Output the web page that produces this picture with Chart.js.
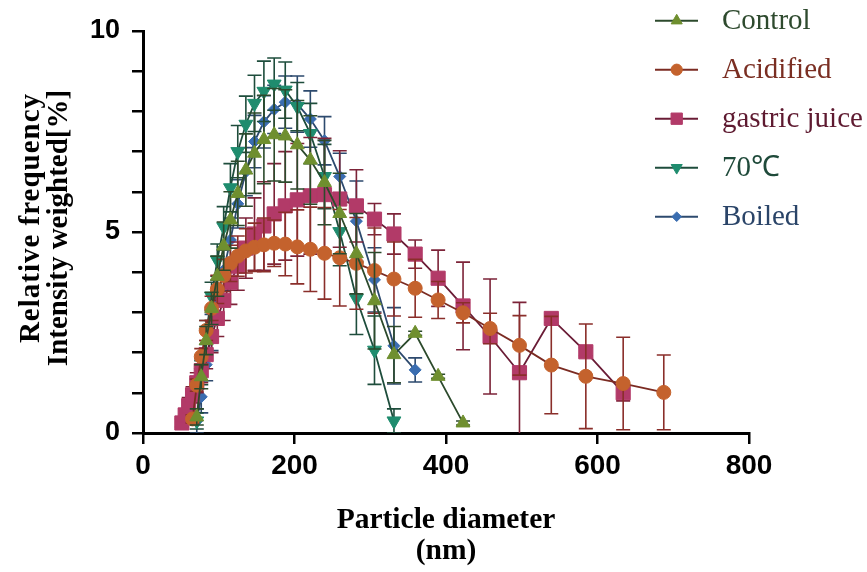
<!DOCTYPE html>
<html><head><meta charset="utf-8">
<script src="https://cdn.jsdelivr.net/npm/chart.js@4.4.1/dist/chart.umd.min.js"></script>
<style>html,body{margin:0;padding:0;background:#fff;}#wrap{width:867px;height:572px;}</style>
</head><body><div id="wrap"><canvas id="c" width="867" height="572"></canvas></div>
<script>
// Particle diameter bins (nm)
const diameters = [51.3,55.7,60.3,65.4,71.0,76.9,83.4,90.5,98.1,106.5,115.4,125.1,135.8,147.2,159.6,173.2,187.8,203.7,220.9,239.6,259.7,281.7,305.6,331.3,359.3,389.6,422.5,458.2,497.0,539.0,584.6,633.9,687.5];
const seriesNames = ['Control','Acidified','gastric juice','70\u2103','Boiled'];
const controlY   = [null,null,null,null,0.4,1.4,2.3,3.1,3.9,4.65,5.30,5.96,6.54,6.96,7.30,7.42,7.39,7.17,6.79,6.23,5.46,4.46,3.29,1.95,2.48,1.41,0.25,null,null,null,null,null,null];
const controlErr = [null,null,null,null,0.2,0.3,0.35,0.4,0.5,0.6,0.7,0.8,0.9,1.0,1.1,1.15,1.15,1.1,1.1,1.05,1.0,1.0,1.2,0.7,0.05,0.05,0.05,null,null,null,null,null,null];
const acidY      = [null,null,null,0.35,1.19,1.90,2.55,3.10,3.57,3.92,4.22,4.40,4.53,4.62,4.68,4.72,4.70,4.63,4.57,4.47,4.36,4.22,4.04,3.83,3.60,3.31,2.99,2.60,2.18,1.69,1.41,1.23,1.01];
const acidErr    = [null,null,null,0.1,0.15,0.2,0.25,0.3,0.35,0.4,0.45,0.5,0.55,0.6,0.67,0.58,0.79,0.92,1.05,1.14,1.2,1.14,1.06,0.92,0.72,0.46,0.25,0.38,0.74,1.21,1.30,1.15,0.93];
const gastricY   = [0.25,0.45,0.68,0.95,1.25,1.55,1.95,2.40,2.85,3.30,3.75,4.15,4.60,4.95,5.15,5.45,5.65,5.80,5.90,5.93,5.82,5.65,5.32,4.95,4.45,3.85,3.16,2.40,1.50,2.85,2.02,1.00,null];
const gastricErr = [0.1,0.15,0.2,0.2,0.25,0.3,0.35,0.4,0.45,0.5,0.55,0.6,0.75,0.9,1.1,1.25,1.35,1.4,1.45,1.4,1.2,0.9,0.39,0.5,0.35,0.7,1.09,1.43,1.75,0.1,0.1,0.2,null];
const c70Y       = [null,null,null,null,0.3,1.5,2.5,3.4,4.3,5.13,6.1,7.0,7.68,8.2,8.5,8.68,8.53,8.12,7.45,6.38,5.01,3.35,2.06,0.3,null,null,null,null,null,null,null,null,null];
const c70Err     = [null,null,null,null,0.2,0.3,0.3,0.35,0.4,0.5,0.6,0.65,0.7,0.7,0.75,0.65,0.7,0.6,0.75,0.8,0.85,0.9,0.85,0.3,null,null,null,null,null,null,null,null,null];
const boiledY    = [null,null,null,null,0.3,0.9,1.7,2.5,3.3,4.05,4.8,5.7,6.5,7.25,7.74,8.05,8.23,8.18,7.81,7.27,6.38,5.27,3.81,2.17,1.57,null,null,null,null,null,null,null,null];
const boiledErr  = [null,null,null,null,0.3,0.4,0.4,0.45,0.5,0.5,0.55,0.6,0.6,0.65,0.65,0.6,0.65,0.7,0.7,0.6,0.58,1.0,0.8,0.95,0.3,null,null,null,null,null,null,null,null];
const xTicks = [0,200,400,600,800];
const yTicks = [0,5,10];

function pts(ys, es){ const out=[]; ys.forEach((v,i)=>{ if(v!=null) out.push({x:diameters[i], y:v, e:es[i]}); }); return out; }

const styles = [
  {marker:'#6f8f2f', line:'#2c4a2c', err:'#2c4a2c', text:'#2e4a2e', style:'triangle', r:8, rot:0},
  {marker:'#c4622d', line:'#7b2b22', err:'#8a2e2a', text:'#7a2e22', style:'circle', r:7, rot:0},
  {marker:'#b23a68', line:'#6a1c36', err:'#7c2338', text:'#5e1a30', style:'rect', r:10, rot:0},
  {marker:'#1f8c6e', line:'#1e4d3c', err:'#1e4d3c', text:'#1f4a3a', style:'triangle', r:8, rot:180},
  {marker:'#3a6db0', line:'#2d4a6e', err:'#2d4a6e', text:'#2a4468', style:'rectRot', r:6, rot:0}
];
const dataArr = [[controlY,controlErr],[acidY,acidErr],[gastricY,gastricErr],[c70Y,c70Err],[boiledY,boiledErr]];

const datasets = dataArr.map((d,i)=>({
  label: seriesNames[i],
  data: pts(d[0], d[1]),
  borderColor: styles[i].line,
  backgroundColor: styles[i].marker,
  borderWidth: 1.8,
  pointStyle: styles[i].style,
  pointRadius: styles[i].r,
  pointRotation: styles[i].rot,
  pointBackgroundColor: styles[i].marker,
  pointBorderColor: styles[i].marker,
  pointBorderWidth: 1,
  tension: 0,
  errColor: styles[i].err
}));

const errPlugin = {
  id:'errbars',
  beforeDatasetDraw(chart, args){
    const ds = chart.data.datasets[args.index];
    const xs = chart.scales.x, ys = chart.scales.y, ctx = chart.ctx, a = chart.chartArea;
    ctx.save();
    ctx.beginPath(); ctx.rect(a.left, a.top-30, a.right-a.left, a.bottom-a.top+30); ctx.clip();
    ctx.strokeStyle = ds.errColor; ctx.lineWidth = 1.6;
    ds.data.forEach(p=>{
      if(p.e==null) return;
      const px = xs.getPixelForValue(p.x);
      const t = ys.getPixelForValue(p.y+p.e), b = ys.getPixelForValue(p.y-p.e);
      ctx.beginPath();
      ctx.moveTo(px,t); ctx.lineTo(px,b);
      ctx.moveTo(px-7,t); ctx.lineTo(px+7,t);
      ctx.moveTo(px-7,b); ctx.lineTo(px+7,b);
      ctx.stroke();
    });
    ctx.restore();
  }
};

const decoPlugin = {
  id:'deco',
  afterDraw(chart){
    const ctx = chart.ctx, a = chart.chartArea;
    ctx.save();
    ctx.fillStyle = '#000';
    ctx.font = 'bold 29.5px "Liberation Serif"';
    ctx.textAlign = 'center'; ctx.textBaseline = 'middle';
    const cx = (a.left+a.right)/2;
    ctx.fillText('Particle diameter', cx, 520);
    ctx.fillText('(nm)', cx, 551);
    ctx.font = 'bold 29px "Liberation Serif"';
    ctx.save();
    ctx.translate(32, 218); ctx.rotate(-Math.PI/2);
    ctx.letterSpacing = '1px';
    ctx.fillText('Relative frequency', 0, 0);
    ctx.restore();
    ctx.save();
    ctx.translate(60, 228); ctx.rotate(-Math.PI/2);
    ctx.letterSpacing = '0px';
    ctx.fillText('Intensity weighted[%]', 0, 0);
    ctx.restore();
    // legend
    ctx.font = '29px "Liberation Serif"';
    ctx.textAlign = 'left';
    styles.forEach((s,i)=>{
      const y = 20.7 + i*49;
      ctx.strokeStyle = s.line; ctx.lineWidth = 2;
      ctx.beginPath(); ctx.moveTo(655,y); ctx.lineTo(698,y); ctx.stroke();
      ctx.fillStyle = s.marker; ctx.strokeStyle = s.marker; ctx.lineWidth = 1;
      Chart.helpers.drawPoint(ctx, {pointStyle:s.style, radius:s.r*0.8, rotation:s.rot, borderWidth:1}, 676.7, y);
      ctx.fillStyle = s.text;
      ctx.fillText(seriesNames[i], 722, y+1);
    });
    ctx.restore();
  }
};

new Chart(document.getElementById('c'), {
  type:'line',
  data:{datasets},
  options:{
    responsive:false, animation:false, devicePixelRatio:1,
    layout:{padding:{left:0,right:118,top:31,bottom:0}},
    plugins:{legend:{display:false}, tooltip:{enabled:false}},
    scales:{
      x:{type:'linear', min:0, max:800,
        afterBuildTicks(s){ s.ticks = xTicks.map(v=>({value:v})); },
        afterFit(s){ s.height = 572-433; },
        ticks:{color:'#000', font:{family:'"Liberation Sans"', weight:'bold', size:28}, padding:5, maxRotation:0, autoSkip:false},
        grid:{drawOnChartArea:false, drawTicks:true, tickLength:11, color:'#000', lineWidth:2.5},
        border:{display:true, color:'#000', width:3}
      },
      y:{type:'linear', min:0, max:10,
        afterBuildTicks(s){ const t=[]; for(let v=0; v<=10; v++) t.push({value:v}); s.ticks=t; },
        afterFit(s){ s.width = 143; },
        ticks:{color:'#000', font:{family:'"Liberation Sans"', weight:'bold', size:27}, padding:12, autoSkip:false,
          callback:(v)=> yTicks.includes(v) ? String(v) : ''},
        grid:{drawOnChartArea:false, drawTicks:true, tickLength:11, color:'#000', lineWidth:2.5},
        border:{display:true, color:'#000', width:3}
      }
    }
  },
  plugins:[errPlugin, decoPlugin]
});
</script>
</body></html>
